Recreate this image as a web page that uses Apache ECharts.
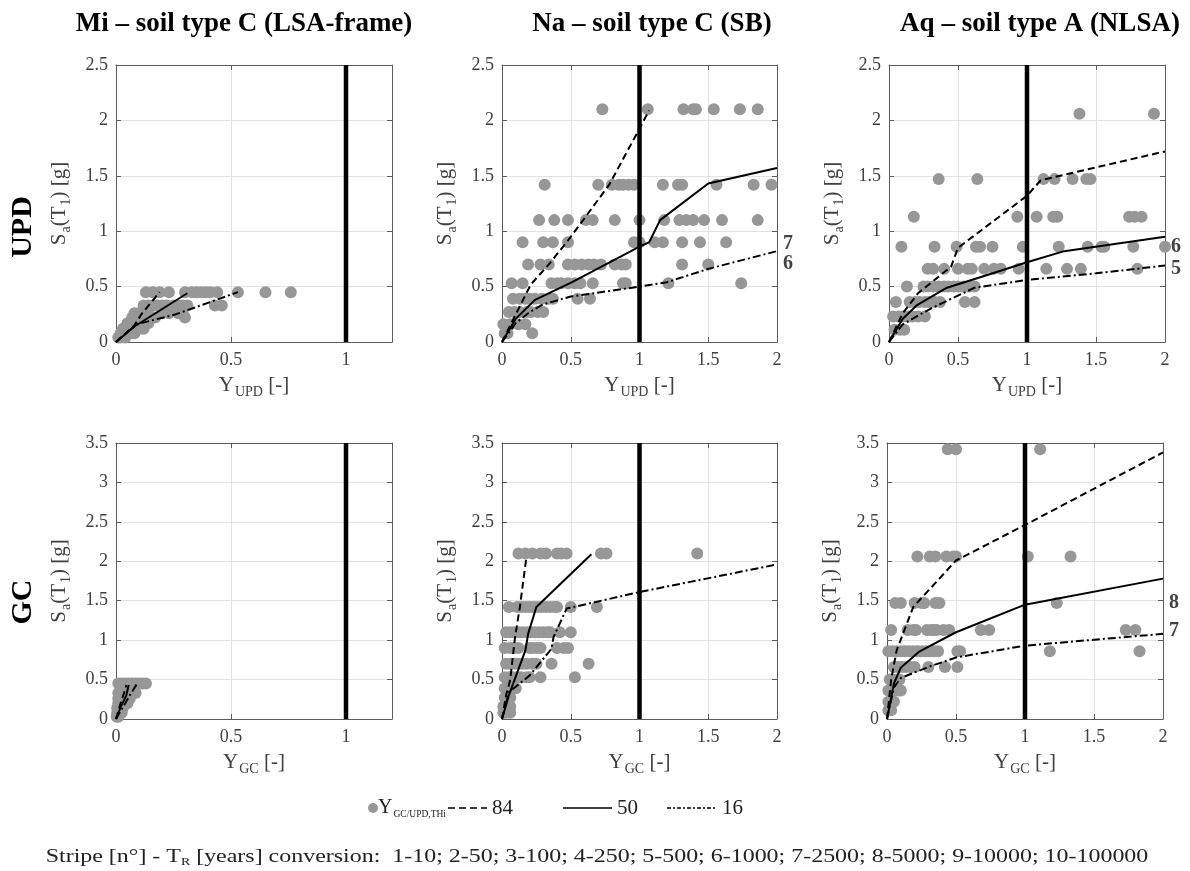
<!DOCTYPE html>
<html><head><meta charset="utf-8">
<script src="https://cdn.jsdelivr.net/npm/echarts@6/dist/echarts.min.js"></script>
<style>html,body{margin:0;padding:0;background:#fff}#c{width:1190px;height:871px}</style>
</head><body><div id="c"></div>
<script>
// ---------------- DATA ----------------
const thresholdX = 1;

// Mi - soil type C (LSA-frame), UPD
const miUpdSa = [0.45, 0.33, 0.26, 0.22, 0.17, 0.12, 0.08, 0.04];
const miUpdY = [
  [0.13,0.16,0.19,0.23,0.30,0.33,0.35,0.37,0.39,0.41,0.44,0.53,0.65,0.76],
  [0.12,0.14,0.16,0.18,0.20,0.22,0.25,0.27,0.29,0.31,0.43,0.46],
  [0.08,0.10,0.12,0.14,0.20,0.23,0.27,0.29],
  [0.07,0.09,0.11,0.13,0.17,0.30],
  [0.05,0.07,0.09,0.11,0.14],
  [0.03,0.05,0.07,0.10,0.12],
  [0.02,0.04,0.06,0.08],
  [0.01,0.02,0.04]
];
const miUpd84 = [[0,0],[0.08,0.15],[0.11,0.25],[0.19,0.45]];
const miUpd50 = [[0,0],[0.08,0.14],[0.31,0.44]];
const miUpd16 = [[0,0],[0.09,0.16],[0.26,0.25],[0.53,0.45]];
const miUpdLabels = [];

// Na - soil type C (SB), UPD
const naUpdSa = [2.10, 1.42, 1.10, 0.90, 0.70, 0.53, 0.39, 0.27, 0.16, 0.08];
const naUpdY = [
  [0.73,1.06,1.32,1.39,1.41,1.54,1.73,1.86],
  [0.31,0.70,0.80,0.85,0.88,0.92,0.96,1.17,1.28,1.31,1.56,1.83,1.96],
  [0.27,0.38,0.48,0.61,0.66,0.82,1.00,1.18,1.29,1.34,1.39,1.47,1.60,1.86],
  [0.15,0.30,0.37,0.48,0.96,1.00,1.11,1.17,1.31,1.44,1.63],
  [0.19,0.28,0.34,0.48,0.53,0.58,0.63,0.67,0.72,0.82,0.87,0.90,1.31,1.50],
  [0.07,0.15,0.36,0.40,0.43,0.48,0.53,0.57,0.66,0.88,0.90,1.21,1.74],
  [0.08,0.13,0.17,0.20,0.24,0.29,0.34,0.37,0.55,0.64],
  [0.05,0.09,0.13,0.18,0.21,0.26,0.30],
  [0.01,0.06,0.12,0.17],
  [0.02,0.04,0.22]
];
const naUpd84 = [[0,0],[0.1,0.25],[0.21,0.52],[0.34,0.70],[0.47,0.90],[0.59,1.10],[0.78,1.42],[0.98,1.88],[1.07,2.09]];
const naUpd50 = [[0,0],[0.1,0.21],[0.24,0.38],[0.51,0.54],[1.0,0.86],[1.07,0.90],[1.15,1.10],[1.5,1.43],[2,1.57]];
const naUpd16 = [[0,0],[0.1,0.17],[0.2,0.27],[0.3,0.34],[0.5,0.41],[1.0,0.50],[1.2,0.54],[1.5,0.66],[2,0.82]];
const naUpdLabels = [['7', 0.89], ['6', 0.71]];

// Aq - soil type A (NLSA), UPD
const aqUpdSa = [2.06, 1.47, 1.13, 0.86, 0.66, 0.50, 0.36, 0.23, 0.11];
const aqUpdY = [
  [1.38,1.92],
  [0.36,0.64,1.12,1.20,1.33,1.43,1.46],
  [0.18,0.93,1.07,1.19,1.22,1.74,1.78,1.83],
  [0.09,0.33,0.49,0.63,0.66,0.75,0.97,1.23,1.44,1.54,1.56,1.77,2.00],
  [0.28,0.32,0.40,0.50,0.57,0.60,0.69,0.76,0.81,0.94,1.14,1.29,1.39,1.80],
  [0.13,0.25,0.28,0.32,0.36,0.40,0.43,0.47,0.50,0.54,0.58,0.62],
  [0.05,0.15,0.19,0.22,0.26,0.29,0.33,0.37,0.55,0.62],
  [0.03,0.07,0.10,0.14,0.17,0.21,0.26],
  [0.04,0.08,0.11]
];
const aqUpd84 = [[0,0],[0.1,0.26],[0.21,0.44],[0.45,0.68],[0.5,0.85],[1.0,1.32],[1.1,1.46],[2,1.72]];
const aqUpd50 = [[0,0],[0.1,0.21],[0.2,0.33],[0.42,0.49],[0.65,0.58],[1.0,0.72],[1.27,0.82],[2,0.95]];
const aqUpd16 = [[0,0],[0.1,0.16],[0.3,0.30],[0.62,0.49],[1.0,0.56],[1.5,0.62],[2,0.69]];
const aqUpdLabels = [['6', 0.86], ['5', 0.66]];

// Mi - GC
const miGcSa = [0.45, 0.33, 0.26, 0.20, 0.14, 0.08, 0.03];
const miGcY = [
  [0.01,0.025,0.04,0.055,0.07,0.085,0.10,0.115,0.13],
  [0.01,0.025,0.04,0.055,0.07,0.085],
  [0.01,0.025,0.04,0.06],
  [0.01,0.02,0.035,0.05],
  [0.005,0.015,0.03],
  [0.005,0.015,0.025],
  [0.003,0.01]
];
const miGc84 = [[0,0],[0.02,0.2],[0.035,0.33],[0.045,0.43]];
const miGc50 = [[0,0],[0.02,0.15],[0.045,0.30],[0.055,0.43]];
const miGc16 = [[0,0],[0.03,0.15],[0.06,0.30],[0.09,0.44]];
const miGcLabels = [];

// Na - GC
const naGcSa = [2.10, 1.42, 1.10, 0.90, 0.70, 0.53, 0.39, 0.27, 0.16, 0.08];
const naGcY = [
  [0.12,0.17,0.22,0.28,0.32,0.40,0.43,0.47,0.72,0.76,1.42],
  [0.05,0.11,0.14,0.17,0.20,0.23,0.26,0.29,0.32,0.35,0.38,0.40,0.50,0.69],
  [0.03,0.06,0.09,0.12,0.15,0.18,0.21,0.24,0.27,0.30,0.33,0.35,0.42,0.50],
  [0.02,0.06,0.09,0.12,0.20,0.22,0.25,0.28,0.40,0.45,0.48],
  [0.03,0.06,0.09,0.12,0.15,0.18,0.22,0.25,0.36,0.63],
  [0.02,0.05,0.08,0.11,0.14,0.18,0.20,0.28,0.53],
  [0.02,0.04,0.07,0.10],
  [0.02,0.04,0.06],
  [0.01,0.03,0.06],
  [0.01,0.03,0.06]
];
const naGc84 = [[0,0],[0.03,0.30],[0.06,0.50],[0.095,1.04],[0.13,1.42],[0.175,2.02]];
const naGc50 = [[0,0],[0.05,0.30],[0.17,0.87],[0.19,1.08],[0.25,1.42],[0.65,2.09]];
const naGc16 = [[0,0],[0.05,0.34],[0.2,0.55],[0.36,0.89],[0.375,1.04],[0.47,1.40],[1.0,1.61],[2,1.96]];
const naGcLabels = [];

// Aq - GC
const aqGcSa = [3.42, 2.06, 1.47, 1.13, 0.86, 0.66, 0.50, 0.36, 0.22, 0.11];
const aqGcY = [
  [0.44,0.50,1.11],
  [0.22,0.31,0.35,0.43,0.48,0.50,1.02,1.33],
  [0.06,0.10,0.20,0.25,0.27,0.35,0.38,1.23],
  [0.03,0.15,0.19,0.21,0.29,0.32,0.34,0.36,0.41,0.45,0.68,0.74,1.73,1.80],
  [0.01,0.04,0.07,0.10,0.13,0.16,0.19,0.22,0.25,0.28,0.31,0.34,0.37,0.51,0.53,1.18,1.83],
  [0.05,0.08,0.11,0.14,0.17,0.20,0.30,0.42,0.51],
  [0.02,0.04,0.07,0.09],
  [0.01,0.03,0.05,0.08,0.10],
  [0.01,0.03,0.05],
  [0.01,0.03]
];
const aqGc84 = [[0,0],[0.03,0.50],[0.07,0.87],[0.19,1.42],[0.5,2.01],[1.0,2.46],[2,3.38]];
const aqGc50 = [[0,0],[0.05,0.45],[0.1,0.65],[0.23,0.85],[0.5,1.10],[1,1.45],[2,1.78]];
const aqGc16 = [[0,0],[0.05,0.40],[0.1,0.52],[0.3,0.66],[0.5,0.78],[1,0.93],[2,1.08]];
const aqGcLabels = [['8', 1.47], ['7', 1.12]];

const titles = ['Mi \u2013 soil type C (LSA-frame)', 'Na \u2013 soil type C (SB)', 'Aq \u2013 soil type A (NLSA)'];
const rowNames = ['UPD', 'GC'];
const legendNames = ['84', '50', '16'];
const conversionText = ' [years] conversion:  1-10; 2-50; 3-100; 4-250; 5-500; 6-1000; 7-2500; 8-5000; 9-10000; 10-100000';

// ---------------- BUILD ----------------
const FONT = '"Liberation Serif","Times New Roman",serif';
const TXT = '#404040';
const AX = '#5c5c5c';
const DOT = '#979797';

function buildPoints(saRows, xRows) {
  const pts = [];
  saRows.forEach((sa, i) => xRows[i].forEach(x => pts.push([x, sa])));
  return pts;
}

const panels = [
  {grid:{left:116, top:65, width:276, height:277}, xMax:1.2, yMax:2.5, sub:'UPD', sa:miUpdSa, xs:miUpdY, l84:miUpd84, l50:miUpd50, l16:miUpd16, labels:miUpdLabels},
  {grid:{left:502, top:65, width:275, height:277}, xMax:2, yMax:2.5, sub:'UPD', sa:naUpdSa, xs:naUpdY, l84:naUpd84, l50:naUpd50, l16:naUpd16, labels:naUpdLabels},
  {grid:{left:889, top:65, width:276, height:277}, xMax:2, yMax:2.5, sub:'UPD', sa:aqUpdSa, xs:aqUpdY, l84:aqUpd84, l50:aqUpd50, l16:aqUpd16, labels:aqUpdLabels},
  {grid:{left:116, top:443, width:276, height:276}, xMax:1.2, yMax:3.5, sub:'GC', sa:miGcSa, xs:miGcY, l84:miGc84, l50:miGc50, l16:miGc16, labels:miGcLabels},
  {grid:{left:502, top:443, width:275, height:276}, xMax:2, yMax:3.5, sub:'GC', sa:naGcSa, xs:naGcY, l84:naGc84, l50:naGc50, l16:naGc16, labels:naGcLabels},
  {grid:{left:887, top:443, width:276, height:276}, xMax:2, yMax:3.5, sub:'GC', sa:aqGcSa, xs:aqGcY, l84:aqGc84, l50:aqGc50, l16:aqGc16, labels:aqGcLabels}
];

const nameRich = {
  n: {fontFamily: FONT, fontSize: 21, color: TXT},
  s: {fontFamily: FONT, fontSize: 14, color: TXT, padding: [13, 0, 0, 1]}
};

const grids = [], xAxes = [], yAxes = [], series = [];
const dash84 = [7, 4];
const dash16 = [8, 3, 2, 3];

panels.forEach((p, i) => {
  grids.push(Object.assign({containLabel: false}, p.grid));
  const common = {gridIndex: i, type: 'value', min: 0, interval: 0.5,
    axisLine: {show: true, onZero: false, lineStyle: {color: AX, width: 1}},
    axisTick: {show: true, inside: true, length: 5, lineStyle: {color: AX}}};
  xAxes.push(Object.assign({}, common, {
    max: p.xMax, position: 'bottom',
    axisLabel: {show: true, fontFamily: FONT, fontSize: 18, color: TXT, margin: 9, showMaxLabel: p.xMax === 2},
    splitLine: {show: true, lineStyle: {color: '#e3e3e3', width: 1}},
    name: '{n|Y}{s|' + p.sub + '}{n| [-]}', nameLocation: 'middle', nameGap: 30,
    nameTextStyle: {rich: nameRich}
  }));
  xAxes.push(Object.assign({}, common, {
    max: p.xMax, position: 'top', axisLabel: {show: false}, splitLine: {show: false}
  }));
  yAxes.push(Object.assign({}, common, {
    max: p.yMax, position: 'left',
    axisLabel: {show: true, fontFamily: FONT, fontSize: 18, color: TXT, margin: 8},
    splitLine: {show: true, lineStyle: {color: '#e3e3e3', width: 1}},
    name: '{n|S}{s|a}{n|(T}{s|1}{n|) [g]}', nameLocation: 'middle', nameGap: 43, nameRotate: 90,
    nameTextStyle: {rich: nameRich}
  }));
  yAxes.push(Object.assign({}, common, {
    max: p.yMax, position: 'right', axisLabel: {show: false}, splitLine: {show: false}
  }));
  const ax = {xAxisIndex: 2 * i, yAxisIndex: 2 * i};
  series.push(Object.assign({type: 'scatter', name: 'points', data: buildPoints(p.sa, p.xs),
    symbol: 'circle', symbolSize: 12, itemStyle: {color: DOT, opacity: 1}, z: 2, silent: true}, ax));
  [[p.l84, '84', dash84], [p.l50, '50', 'solid'], [p.l16, '16', dash16]].forEach(([d, nm, tp]) => {
    series.push(Object.assign({type: 'line', name: nm, data: d, symbol: 'none', showSymbol: false,
      lineStyle: {color: '#000', width: 2, type: tp}, z: 4, silent: true}, ax));
  });
  series.push(Object.assign({type: 'line', name: 'limit', data: [[thresholdX, 0], [thresholdX, p.yMax]],
    symbol: 'none', lineStyle: {color: '#000', width: 4.5}, z: 5, silent: true}, ax));
  if (p.labels.length) {
    series.push(Object.assign({type: 'scatter', name: 'stripe', symbolSize: 0, clip: false, silent: true,
      data: p.labels.map(([t, y]) => ({value: [p.xMax, y], name: t})),
      label: {show: true, position: 'right', distance: 6, formatter: '{b}', fontFamily: FONT,
        fontWeight: 'bold', fontSize: 20, color: '#111'}}, ax));
  }
});

const graphics = [];
const titleX = [244, 652, 1040];
titles.forEach((t, i) => graphics.push({type: 'text', x: titleX[i], y: 24,
  style: {text: t, fontFamily: FONT, fontWeight: 'bold', fontSize: 27, fill: '#000',
    align: 'center', verticalAlign: 'middle', textAlign: 'center', textVerticalAlign: 'middle'}}));
const rowY = [227, 602];
rowNames.forEach((t, i) => graphics.push({type: 'text', x: 23, y: rowY[i], rotation: Math.PI / 2,
  style: {text: t, fontFamily: FONT, fontWeight: 'bold', fontSize: 30, fill: '#000',
    align: 'center', verticalAlign: 'middle', textAlign: 'center', textVerticalAlign: 'middle'}}));

// legend
const legY = 808;
graphics.push({type: 'circle', shape: {cx: 373, cy: legY, r: 5}, style: {fill: DOT}});
graphics.push({type: 'text', x: 378, y: legY,
  style: {text: '{n|Y}{s|GC/UPD,THi}', align: 'left', verticalAlign: 'middle', textAlign: 'left', textVerticalAlign: 'middle',
    rich: {n: {fontFamily: FONT, fontSize: 20, fill: '#222', color: '#222'},
           s: {fontFamily: FONT, fontSize: 9.5, fill: '#222', color: '#222', padding: [12, 0, 0, 1]}}}});
const legItems = [[448, 487, dash84], [563, 612, null], [667, 717, [4, 2, 2, 2]]];
legItems.forEach(([x1, x2, d], i) => {
  graphics.push({type: 'line', shape: {x1: x1, y1: legY, x2: x2, y2: legY},
    style: {stroke: '#000', lineWidth: 1.6, lineDash: d}});
  graphics.push({type: 'text', x: x2 + 5, y: legY,
    style: {text: legendNames[i], fontFamily: FONT, fontSize: 21, fill: '#222', align: 'left', verticalAlign: 'middle',
      textAlign: 'left', textVerticalAlign: 'middle'}});
});
// conversion note
graphics.push({type: 'text', x: 597, y: 857, scaleX: 1.26,
  style: {text: '{n|Stripe [n\u00b0] - T}{s|R}{n|' + conversionText + '}', align: 'center', verticalAlign: 'middle',
    textAlign: 'center', textVerticalAlign: 'middle',
    rich: {n: {fontFamily: FONT, fontSize: 19, fill: '#222', color: '#222'},
           s: {fontFamily: FONT, fontSize: 11, fill: '#222', color: '#222', padding: [10, 0, 0, 0]}}}});

const chart = echarts.init(document.getElementById('c'), null, {renderer: 'canvas'});
chart.setOption({
  animation: false,
  backgroundColor: '#fff',
  grid: grids, xAxis: xAxes, yAxis: yAxes, series: series, graphic: graphics
});
</script></body></html>
